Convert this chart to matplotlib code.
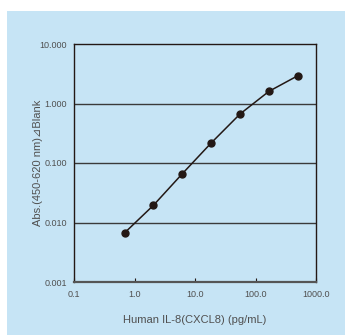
import numpy as np
import matplotlib
matplotlib.use('Agg')
import matplotlib.pyplot as plt
from matplotlib.patches import Rectangle

# standard curve (3-fold dilution series)
conc = [0.686, 2.06, 6.17, 18.5, 55.6, 166.7, 500.0]
absorb = [0.0067, 0.0195, 0.066, 0.217, 0.667, 1.60, 2.93]

x_ticks = [0.1, 1, 10, 100, 1000]
x_labels = ['0.1', '1.0', '10.0', '100.0', '1000.0']
y_ticks = [0.001, 0.01, 0.1, 1, 10]
y_labels = ['0.001', '0.010', '0.100', '1.000', '10.000']

plt.rcParams['font.family'] = ['Liberation Sans', 'DejaVu Sans']
bg = '#c6e4f5'
txt = '#505050'

fig = plt.figure(figsize=(3.45, 3.35), dpi=100)
fig.patch.set_facecolor('white')
fig.patches.append(Rectangle((7 / 345, 0), 1, (335 - 11) / 335, transform=fig.transFigure,
                             facecolor=bg, edgecolor='none', zorder=-10))

ax = fig.add_axes([74 / 345, 53 / 335, 242 / 345, 238 / 335])
ax.set_facecolor(bg)
ax.set_xscale('log')
ax.set_yscale('log')
ax.set_xlim(0.1, 1000)
ax.set_ylim(0.001, 10)

for v in y_ticks[1:-1]:
    ax.axhline(v, color='#3a3a3a', lw=1.0, zorder=1)

ax.plot(conc, absorb, color='#231815', lw=1.1, marker='o', ms=5.0, zorder=3)

ax.set_xticks(x_ticks)
ax.set_xticklabels(x_labels)
ax.set_yticks(y_ticks)
ax.set_yticklabels(y_labels)
ax.minorticks_off()
ax.tick_params(axis='x', direction='in', length=3, width=0.8, color='#231815',
               labelsize=6.5, labelcolor=txt, pad=6)
ax.tick_params(axis='y', length=0, labelsize=6.5, labelcolor=txt, pad=5)

for s in ax.spines.values():
    s.set_color('#231815')
    s.set_linewidth(1.0)
ax.spines['bottom'].set_color('#555555')
ax.spines['bottom'].set_linewidth(1.6)

ax.set_xlabel('Human IL-8(CXCL8) (pg/mL)', fontsize=8, color=txt, labelpad=11)
ax.set_ylabel('Abs.(450-620 nm)\u22bfBlank', fontsize=8, color=txt)
ax.yaxis.set_label_coords(-0.128, 0.5)

fig.savefig('out.png', dpi=100, facecolor=fig.get_facecolor())
